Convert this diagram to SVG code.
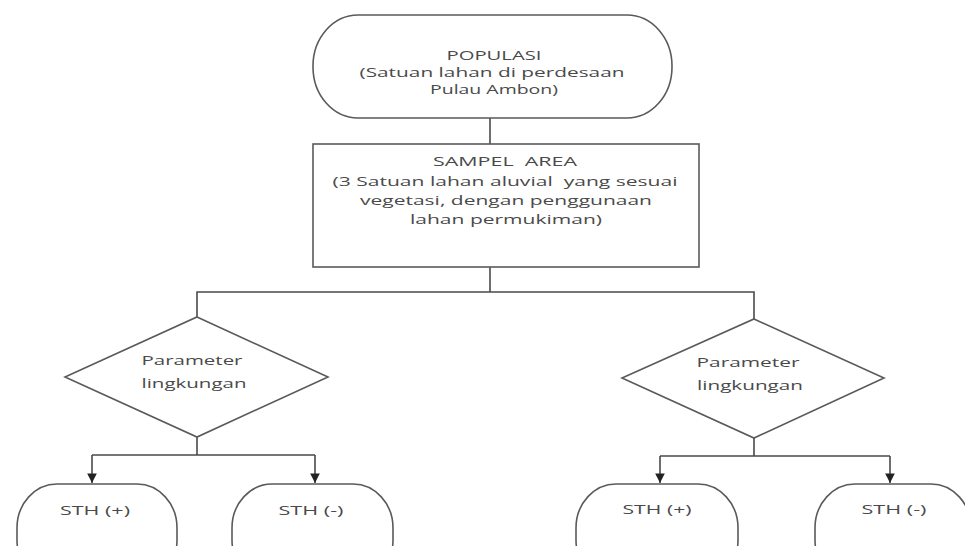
<svg xmlns="http://www.w3.org/2000/svg" width="965" height="546" viewBox="0 0 965 546">
<style>
.shape{fill:#fff;stroke:#5a5a5a;stroke-width:1.6}
.conn{fill:none;stroke:#4a4a4a;stroke-width:1.6}
text{font-family:"Open Sans","DejaVu Sans",sans-serif;font-size:12.5px;fill:#4a4a4a;text-anchor:middle}
</style>
<defs>
<marker id="arr" viewBox="0 0 10 10" refX="10" refY="5" markerWidth="6" markerHeight="6" markerUnits="strokeWidth" orient="auto">
<path d="M0,0 L10,5 L0,10 Z" fill="#222"/>
</marker>
</defs>
<rect width="965" height="546" fill="#fff"/>
<g id="connectors">
<path class="conn" d="M490,118 V144"/>
<path class="conn" d="M490,267 V292 M197,317 V292 H754 V319"/>
<path class="conn" d="M197,437 V455 M92,455 H315" />
<path class="conn" d="M92,455 V483" marker-end="url(#arr)"/>
<path class="conn" d="M315,455 V483" marker-end="url(#arr)"/>
<path class="conn" d="M754,438 V456 M660,456 H890"/>
<path class="conn" d="M660,456 V483" marker-end="url(#arr)"/>
<path class="conn" d="M890,456 V483" marker-end="url(#arr)"/>
</g>
<g id="populasi">
<rect class="shape" x="313" y="15" width="359" height="103" rx="45" ry="51"/>
<text x="494" y="60" textLength="95" lengthAdjust="spacingAndGlyphs">POPULASI</text>
<text x="492" y="77" textLength="265" lengthAdjust="spacingAndGlyphs">(Satuan lahan di perdesaan</text>
<text x="494" y="94" textLength="128" lengthAdjust="spacingAndGlyphs">Pulau Ambon)</text>
</g>
<g id="sampel">
<rect class="shape" x="313" y="144" width="386" height="123"/>
<text x="505" y="166" textLength="144" lengthAdjust="spacingAndGlyphs" xml:space="preserve">SAMPEL  AREA</text>
<text x="505" y="186" textLength="345" lengthAdjust="spacingAndGlyphs" xml:space="preserve">(3 Satuan lahan aluvial  yang sesuai</text>
<text x="506" y="205" textLength="292" lengthAdjust="spacingAndGlyphs">vegetasi, dengan penggunaan</text>
<text x="506" y="224" textLength="192" lengthAdjust="spacingAndGlyphs">lahan permukiman)</text>
</g>
<g id="param-left">
<polygon class="shape" points="197,317 328,377 197,437 65,377"/>
<text x="192" y="365" textLength="101" lengthAdjust="spacingAndGlyphs">Parameter</text>
<text x="194" y="388" textLength="105" lengthAdjust="spacingAndGlyphs">lingkungan</text>
</g>
<g id="param-right">
<polygon class="shape" points="754,319 884,378 754,438 622,378"/>
<text x="748" y="367" textLength="103" lengthAdjust="spacingAndGlyphs">Parameter</text>
<text x="750" y="390" textLength="106" lengthAdjust="spacingAndGlyphs">lingkungan</text>
</g>
<g id="sth-plus-left">
<rect class="shape" x="17" y="484" width="160" height="100" rx="40" ry="44"/>
<text x="95" y="515" textLength="70" lengthAdjust="spacingAndGlyphs">STH (+)</text>
</g>
<g id="sth-minus-left">
<rect class="shape" x="232" y="484" width="161" height="100" rx="40" ry="44"/>
<text x="311" y="515" textLength="65" lengthAdjust="spacingAndGlyphs">STH (-)</text>
</g>
<g id="sth-plus-right">
<rect class="shape" x="576" y="484" width="162" height="100" rx="40" ry="44"/>
<text x="657" y="514" textLength="69" lengthAdjust="spacingAndGlyphs">STH (+)</text>
</g>
<g id="sth-minus-right">
<rect class="shape" x="815" y="484" width="156" height="100" rx="40" ry="44"/>
<text x="894" y="514" textLength="65" lengthAdjust="spacingAndGlyphs">STH (-)</text>
</g>
</svg>
